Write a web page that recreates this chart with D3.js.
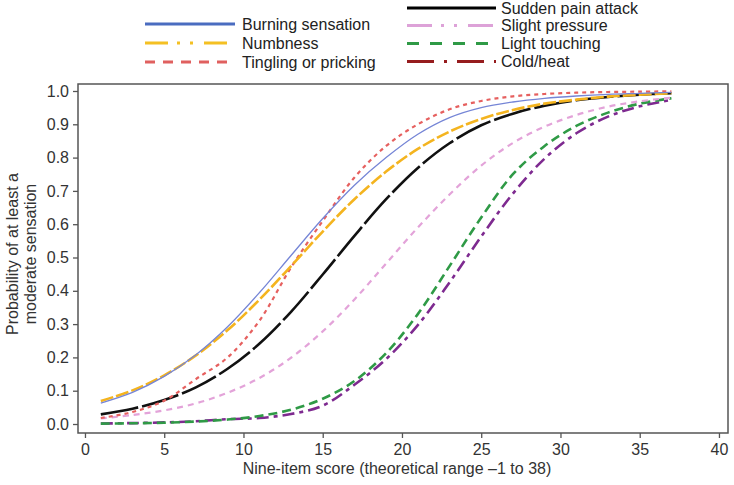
<!DOCTYPE html>
<html><head><meta charset="utf-8">
<script src="https://cdn.jsdelivr.net/npm/d3@7"></script>
<style>body{margin:0;background:#fff}svg{display:block;font-family:"Liberation Sans",Arial,sans-serif}</style>
</head><body><svg id="c" width="734" height="485"></svg>
<script>
const xs = [1,3,5,7,9,11,13,15,17,19,21,23,25,27,29,31,33,35,37];
const burning  = [0.063,0.095,0.143,0.208,0.292,0.394,0.506,0.617,0.717,0.80,0.87,0.92,0.95,0.967,0.978,0.985,0.99,0.993,0.996];
const numbness = [0.069,0.101,0.146,0.206,0.282,0.373,0.474,0.578,0.675,0.758,0.826,0.878,0.916,0.943,0.962,0.974,0.983,0.989,0.993];
const tingling = [0.018,0.036,0.07,0.135,0.20,0.31,0.47,0.61,0.74,0.835,0.90,0.945,0.97,0.984,0.991,0.995,0.997,0.998,0.999];
const sudden   = [0.029,0.046,0.072,0.11,0.166,0.241,0.337,0.449,0.565,0.675,0.769,0.843,0.897,0.932,0.956,0.972,0.982,0.989,0.993];
const pressure = [0.017,0.027,0.041,0.062,0.094,0.138,0.199,0.278,0.374,0.482,0.59,0.689,0.776,0.844,0.893,0.928,0.953,0.969,0.98];
const touching = [0.0012,0.0022,0.004,0.0074,0.0134,0.024,0.043,0.076,0.129,0.213,0.33,0.474,0.62,0.75,0.835,0.895,0.935,0.962,0.978];
const coldheat = [0.0016,0.0028,0.0048,0.0084,0.0146,0.018,0.03,0.055,0.118,0.195,0.297,0.425,0.563,0.692,0.797,0.873,0.923,0.954,0.973];
const xTicks = [0,5,10,15,20,25,30,35,40];
const yTicks = [0,0.1,0.2,0.3,0.4,0.5,0.6,0.7,0.8,0.9,1.0];

const series = [
  {name:"Burning sensation", v:burning,  col:"#7585d6", w:1.3, dash:null,        lcol:"#4a6cc0", ldash:null},
  {name:"Numbness",          v:numbness, col:"#f4b41f", w:2.6, dash:"13,3",      lcol:"#f4c023", ldash:"23,9,3,10,3,11"},
  {name:"Tingling or pricking", v:tingling, col:"#e6605f", w:2.2, dash:"4,4",    lcol:"#e0605f", ldash:"10,8"},
  {name:"Sudden pain attack", v:sudden,  col:"#111111", w:2.6, dash:"38,4",      lcol:"#000000", ldash:null},
  {name:"Slight pressure",   v:pressure, col:"#e3a3d9", w:2.2, dash:"6,5",       lcol:"#dda2d8", ldash:"25,9,3,10,3,11"},
  {name:"Light touching",    v:touching, col:"#2f9a46", w:2.6, dash:"9,5",       lcol:"#2f9a46", ldash:"12,11"},
  {name:"Cold/heat",         v:coldheat, col:"#7e2a90", w:2.6, dash:"12,5,4,5",  lcol:"#961c1e", ldash:"27,10,3,10"}
];

const svg = d3.select("#c");
const L=78, R=728, T=84, B=433;
const x = d3.scaleLinear().domain([-0.44,40.57]).range([L,R]);
const y = d3.scaleLinear().domain([-0.027,1.021]).range([B,T]);

// frame
svg.append("rect").attr("x",L).attr("y",T).attr("width",R-L).attr("height",B-T)
  .attr("fill","none").attr("stroke","#555").attr("stroke-width",1.5);

const xa = svg.append("g").attr("transform",`translate(0,${B})`)
  .call(d3.axisBottom(x).tickValues(xTicks).tickSize(5).tickSizeOuter(0).tickPadding(6).tickFormat(d3.format("d")));
const ya = svg.append("g").attr("transform",`translate(${L},0)`)
  .call(d3.axisLeft(y).tickValues(yTicks).tickSize(5).tickSizeOuter(0).tickPadding(4).tickFormat(d3.format(".1f")));
[xa,ya].forEach(a=>{
  a.select(".domain").remove();
  a.selectAll("line").attr("stroke","#555").attr("stroke-width",1.3);
  a.selectAll("text").attr("fill","#333").style("font-size","16px").style("font-family","'Liberation Sans',Arial,sans-serif");
});

const line = d3.line().x((d,i)=>x(xs[i])).y(d=>y(d)).curve(d3.curveCatmullRom);
series.slice().reverse().forEach(s=>{
  svg.append("path").datum(s.v).attr("d",line).attr("fill","none")
    .attr("stroke",s.col).attr("stroke-width",s.w)
    .attr("stroke-dasharray",s.dash).attr("stroke-linecap","butt");
});

// axis titles
svg.append("text").attr("x",(x(0)+x(40))/2 - 5).attr("y",474).attr("text-anchor","middle")
  .attr("fill","#333").style("font-size","16px").text("Nine-item score (theoretical range \u20131 to 38)");
const yt = svg.append("text").attr("transform","translate(0,254) rotate(-90)")
  .attr("text-anchor","middle").attr("fill","#333").style("font-size","16px");
yt.append("tspan").attr("x",0).attr("y",18).text("Probability of at least a");
yt.append("tspan").attr("x",0).attr("y",36).text("moderate sensation");

// legend
const legPos = [
  {x1:145,x2:235,tx:242,y:24},
  {x1:145,x2:235,tx:242,y:43},
  {x1:145,x2:235,tx:242,y:62},
  {x1:407,x2:496,tx:501,y:8},
  {x1:407,x2:496,tx:501,y:25.5},
  {x1:407,x2:496,tx:501,y:43.5},
  {x1:407,x2:496,tx:501,y:61.5}
];
series.forEach((s,i)=>{
  const p = legPos[i];
  svg.append("line").attr("x1",p.x1).attr("x2",p.x2).attr("y1",p.y).attr("y2",p.y)
    .attr("stroke",s.lcol).attr("stroke-width",3).attr("stroke-dasharray",s.ldash);
  svg.append("text").attr("x",p.tx).attr("y",p.y).attr("dy","0.35em")
    .attr("fill","#222").style("font-size","16px").text(s.name);
});
</script></body></html>
